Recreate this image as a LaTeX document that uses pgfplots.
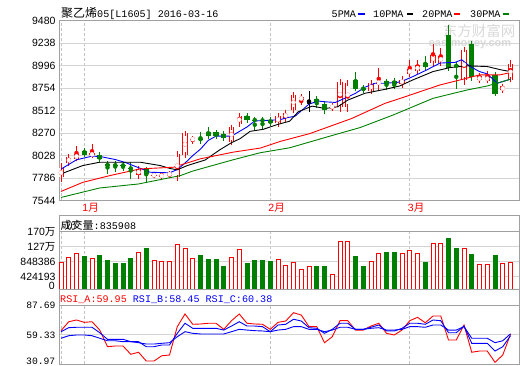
\documentclass[border=0pt]{standalone}
\usepackage{fontspec}
\setmainfont{Liberation Sans}
\setmonofont{Liberation Mono}
\newfontfamily\cjk{Noto Sans CJK SC}
\usepackage{pgfplots}
\usepackage{pgfplotstable}
\pgfplotsset{compat=1.18}
\definecolor{cred}{RGB}{255,0,0}
\definecolor{cgreen}{RGB}{0,128,0}
\definecolor{cblue}{RGB}{0,0,255}
\definecolor{framec}{RGB}{160,160,160}
\definecolor{gridc}{RGB}{212,212,212}
\definecolor{dashc}{RGB}{195,195,195}

% candles: index open high low close
\pgfplotstableread{
i o h l c
0 7795 7946 7748 7899
1 7946 8044 7928 8018
2 7996 8133 7982 8047
4 8033 8155 8000 8054
10 7820 7910 7774 7885
12 7815 7845 7790 7825
13 7810 7855 7785 7818
14 7826 7865 7785 7834
15 7795 8054 7758 8047
16 8036 8281 8025 8270
17 8203 8241 8155 8210
22 8173 8349 8162 8335
23 8371 8486 8360 8461
28 8378 8490 8340 8457
29 8428 8520 8393 8493
30 8522 8692 8522 8684
31 8630 8659 8576 8659
35 8544 8576 8522 8566
36 8558 8838 8504 8821
37 8558 8828 8504 8810
40 8727 8838 8702 8810
41 8812 8972 8738 8820
44 8803 8882 8756 8846
45 8908 9062 8882 8962
46 8936 9062 8918 9008
48 9026 9232 9008 9116
49 9026 9188 9008 9105
52 8846 9199 8792 9170
54 8838 8918 8828 8882
55 8835 8935 8828 8882
57 8731 8792 8720 8774
58 8846 9062 8838 9016
}\updata
\pgfplotstableread{
i o h l c
3 8079 8115 8018 8039
5 8036 8054 7964 7990
6 7935 7975 7830 7925
7 7930 7970 7855 7924
8 7928 7960 7860 7922
9 7895 7965 7775 7890
11 7882 7910 7748 7831
18 8210 8281 8152 8203
19 8281 8335 8206 8241
20 8281 8303 8206 8241
21 8263 8281 8206 8220
24 8461 8479 8396 8414
25 8415 8420 8305 8410
26 8412 8420 8320 8405
27 8414 8450 8345 8378
33 8638 8648 8540 8605
34 8587 8612 8476 8522
38 8846 8925 8738 8749
39 8752 8792 8702 8748
42 8828 8846 8738 8800
43 8832 8840 8745 8802
47 9026 9098 8936 8983
50 9332 9440 8962 8972
51 9008 9010 8746 8983
53 9235 9260 8828 8875
56 8900 8918 8666 8695
}\downdata
\pgfplotstableread{
i o h l c
32 8605 8720 8504 8605
}\flatdata

% volume
\pgfplotstableread{
i v
0 823000
1 980000
2 1074000
4 935000
10 1102000
12 879000
13 851000
14 851000
15 1326000
16 1222000
17 943000
22 963000
23 1194000
28 915000
29 748000
30 823000
31 636000
32 720000
35 497000
36 1418000
37 1418000
40 851000
41 1074000
44 1074000
45 1166000
46 1074000
48 1353000
49 1353000
52 1222000
54 767000
55 767000
57 804000
58 835908
}\volup
\pgfplotstableread{
i v
3 999000
5 1027000
6 887000
7 804000
8 804000
9 943000
11 1222000
18 1027000
19 924000
20 924000
21 728000
24 804000
25 887000
26 887000
27 860000
33 720000
34 720000
38 999000
39 720000
42 1111000
43 1111000
47 832000
50 1501000
51 1222000
53 1055000
56 1027000
}\voldown

\pgfplotsset{
  panel/.style={scale only axis, width=460.5pt, xmin=-0.26, xmax=59.16,
    axis line style={draw=framec, line width=0.8pt}, major tick length=0pt,
    xtick={0,3,27,45}, xmajorgrids,
    x grid style={draw=dashc, dash pattern=on 3pt off 2pt, line width=0.8pt},
    ymajorgrids, y grid style={draw=gridc, line width=0.8pt}},
  outerbox/.style={scale only axis, width=460.5pt, xmin=0, xmax=1, ymin=0, ymax=1,
    xtick={0}, ytick={0}, xticklabels={}, yticklabels={}, major tick length=0pt,
    axis line style={draw=framec, line width=0.8pt}},
  wick/.style={color=#1, only marks, mark=none, forget plot, error bars/.cd, y dir=both, y explicit,
    error mark=none, error bar style={color=#1, line width=0.9pt}},
  body/.style={color=#1, only marks, mark=none, forget plot, error bars/.cd, y dir=both, y explicit,
    error mark=-, error mark options={color=#1, line width=0.9pt, mark size=2.7pt},
    error bar style={color=#1, line width=5.4pt}},
  hollow/.style={color=white, only marks, mark=none, forget plot, error bars/.cd, y dir=both, y explicit,
    error mark=-, error mark options={color=#1, line width=0.9pt, mark size=2.7pt},
    error bar style={color=white, line width=3.6pt}},
}

\begin{document}
\begin{tikzpicture}
\useasboundingbox (0pt,0pt) rectangle (520pt,365pt);

% watermark
\node[text=black!15, font=\cjk\fontsize{14.5}{15}\selectfont, inner sep=0] at (479pt,334.5pt) {东方财富网};
\node[text=black!15, font=\bfseries\fontsize{11}{12}\selectfont, inner sep=0] at (470pt,321pt) {eastmoney.com};

% ---------------- main price panel
\begin{axis}[panel, at={(59pt,344.2pt)}, anchor=north west, height=180pt,
  ymin=7544, ymax=9480,
  ytick={7544,7786,8028,8270,8512,8754,8996,9238,9480},
  yticklabels={7544,7786,8028,8270,8512,8754,8996,9238,9480},
  yticklabel style={font=\fontsize{10.5}{12}\selectfont},
  xticklabels={,1{\cjk 月},2{\cjk 月},3{\cjk 月}},
  xticklabel style={anchor=north west, text=cred, inner sep=0pt, xshift=-2pt, yshift=-2pt,
    font=\fontsize{10.5}{12}\selectfont},
]
% up candles (hollow red)
\addplot[wick=cred] table[x=i, y expr={(\thisrow{h}+\thisrow{l})/2}, y error expr={(\thisrow{h}-\thisrow{l})/2}] {\updata};
\addplot[body=cred] table[x=i, y expr={(\thisrow{o}+\thisrow{c})/2}, y error expr={abs(\thisrow{c}-\thisrow{o})/2}] {\updata};
\addplot[hollow=cred] table[x=i, y expr={(\thisrow{o}+\thisrow{c})/2}, y error expr={abs(\thisrow{c}-\thisrow{o})/2}] {\updata};
% down candles (filled green)
\addplot[wick=cgreen] table[x=i, y expr={(\thisrow{h}+\thisrow{l})/2}, y error expr={(\thisrow{h}-\thisrow{l})/2}] {\downdata};
\addplot[body=cgreen] table[x=i, y expr={(\thisrow{o}+\thisrow{c})/2}, y error expr={abs(\thisrow{c}-\thisrow{o})/2}] {\downdata};
% flat candle (black)
\addplot[wick=black] table[x=i, y expr={(\thisrow{h}+\thisrow{l})/2}, y error expr={(\thisrow{h}-\thisrow{l})/2}] {\flatdata};
\addplot[body=black] table[x=i, y expr={(\thisrow{o}+\thisrow{c})/2}, y error expr={abs(\thisrow{c}-\thisrow{o})/2}] {\flatdata};
% 5 PMA
\addplot[cblue, line width=0.9pt, mark=none] coordinates {
(0,7885) (2,7985) (4,8024) (5,8021) (7,7988) (8.3,7956) (10.2,7894) (11.5,7851)
(14,7845) (15,7880) (16,7950) (17,8030) (18,8100) (19,8194) (20,8240) (22,8240)
(24,8338) (25,8403) (27,8410) (28.3,8418) (29.3,8440) (30.2,8454) (32,8584)
(33.2,8617) (34,8609) (35.4,8602) (36.6,8646) (38,8700) (39.2,8765) (40.5,8808)
(41.8,8808) (43.5,8819) (44.4,8844) (45.4,8880) (47.2,8952) (48.9,9025) (50.2,9031)
(50.8,9031) (51.7,9061) (52.8,8988) (54,8934) (55,8909) (56.3,8808) (57,8826) (58,8852)};
% 10 PMA
\addplot[black, line width=0.9pt, mark=none] coordinates {
(0,7833) (2.8,7923) (5,7959) (10.2,7959) (12.8,7923) (14.1,7891) (15,7877) (16.3,7923)
(18.6,7983) (20.5,8093) (22,8169) (23.1,8212) (24.4,8291) (26.1,8313) (27.9,8364)
(29.5,8400) (30.6,8501) (32.4,8562) (34.1,8537) (35.7,8555) (37,8627) (39.2,8700)
(41.8,8743) (43.7,8779) (45.4,8844) (48,8934) (50.2,8977) (52.4,8996) (55,8988)
(56.8,8952) (58,8934)};
% 20 PMA
\addplot[cred, line width=0.9pt, mark=none] coordinates {
(0,7645) (2.8,7742) (6.3,7815) (10.2,7887) (14.5,7905) (18,7996) (22.2,8067)
(25.7,8111) (28.3,8183) (32.1,8267) (37.5,8429) (41.8,8592) (44.4,8663) (46.3,8717)
(48.9,8790) (51.5,8844) (54,8898) (56.6,8898) (58,8923)};
% 30 PMA
\addplot[cgreen, line width=0.9pt, mark=none] coordinates {
(0,7580) (5,7682) (10,7725) (15.4,7815) (17,7864) (22.2,7985) (25.7,8061) (29.5,8114)
(34.3,8230) (38.6,8332) (42.8,8465) (48,8646) (52.4,8736) (55,8779) (58,8852)};
\end{axis}

% ---------------- volume panel
\begin{axis}[outerbox, at={(59pt,149.3pt)}, anchor=north west, height=73.6pt]
\addplot[draw=none, mark=none] coordinates {(0.5,0.5)};
\end{axis}
\begin{axis}[panel, at={(59pt,133.3pt)}, anchor=north west, height=57.6pt,
  ymin=70000, ymax=1696772, xticklabels={},
  ytick={424193,848386,1272579,1696772},
  yticklabels={424193,848386,{127{\cjk 万}},{170{\cjk 万}}},
  yticklabel style={font=\fontsize{10.5}{12}\selectfont},
]
\addplot[ybar, bar shift=0pt, bar width=0.5, draw=cred, fill=white, line width=0.8pt] table[x=i, y=v] {\volup};
\addplot[ybar, bar shift=0pt, bar width=0.5, draw=cgreen, fill=cgreen, line width=0.8pt] table[x=i, y=v] {\voldown};
\end{axis}
\node[anchor=east, inner sep=0, font=\fontsize{10.5}{12}\selectfont] at (55pt,79pt) {0};

% ---------------- RSI panel
\begin{axis}[outerbox, at={(59pt,75.5pt)}, anchor=north west, height=74.5pt]
\addplot[draw=none, mark=none] coordinates {(0.5,0.5)};
\end{axis}
\begin{axis}[panel, at={(59pt,59.3pt)}, anchor=north west, height=58.3pt,
  ymin=30.97, ymax=87.69, xticklabels={},
  ytick={59.33,87.69}, yticklabels={59.33,87.69},
  yticklabel style={font=\ttfamily\fontsize{9.7}{11}\selectfont},
]
\addplot[cred, line width=0.9pt, mark=none] coordinates {
(0,63.4) (1,72.1) (2,73.8) (3,71.5) (4,72.1) (5,64.0) (6,47.8) (7,48.5) (8,48.5) (9,40.4)
(10,42.4) (11,33.9) (12,33.9) (13,39.0) (14,39.7) (15,67.3) (16,79.6) (17,69.6) (18,69.9)
(19,70.6) (20,70.6) (21,64.7) (22,73.1) (23,79.6) (24,70.6) (25,69.9) (26,69.6) (27,64.7)
(28,71.5) (29,72.8) (30,80.9) (31,78.6) (32,67.3) (33,67.3) (34,51.7) (35,57.5) (36,73.1)
(37,73.1) (38,64.0) (39,64.0) (40,67.9) (41,70.6) (42,60.8) (43,59.2) (44,64.0) (45,73.1)
(46,76.4) (47,71.1) (48,77.7) (49,77.7) (50,54.3) (51,54.3) (52,68.9) (53,42.4) (54,43.6)
(55,43.6) (56,32.6) (57,39.7) (58,59.95)};
\addplot[cblue, line width=0.9pt, mark=none] coordinates {
(0,62.4) (1,66.3) (2,66.7) (3,66.7) (4,66.7) (5,61.4) (6,55.0) (7,55.0) (8,55.0) (9,52.7)
(10,52.7) (11,47.8) (12,47.8) (13,49.5) (14,49.5) (15,60.8) (16,70.6) (17,65.7) (18,65.7)
(19,65.7) (20,65.7) (21,64.0) (22,67.9) (23,72.1) (24,67.9) (25,67.9) (26,67.3) (27,62.4)
(28,68.9) (29,69.6) (30,74.5) (31,72.8) (32,66.3) (33,65.7) (34,60.8) (35,64.7) (36,70.6)
(37,70.6) (38,64.7) (39,64.7) (40,66.7) (41,68.9) (42,63.1) (43,63.1) (44,65.7) (45,70.6)
(46,70.6) (47,69.6) (48,73.8) (49,73.1) (50,61.4) (51,61.4) (52,67.9) (53,51.1) (54,51.1)
(55,51.1) (56,43.6) (57,47.8) (58,58.45)};
\addplot[cblue, line width=0.9pt, mark=none] coordinates {
(0,56.0) (1,58.5) (2,59.2) (3,59.2) (4,58.5) (5,56.0) (6,53.6) (7,53.6) (8,52.7) (9,52.7)
(10,51.7) (11,50.4) (12,50.4) (13,51.1) (14,51.7) (15,57.5) (16,62.4) (17,60.8) (18,60.2)
(19,60.2) (20,60.2) (21,60.2) (22,62.4) (23,64.7) (24,64.0) (25,63.4) (26,63.1) (27,62.4)
(28,64.0) (29,64.7) (30,67.3) (31,67.3) (32,64.7) (33,64.7) (34,62.4) (35,64.0) (36,66.7)
(37,66.7) (38,64.7) (39,64.7) (40,65.7) (41,66.3) (42,64.0) (43,64.0) (44,64.7) (45,67.3)
(46,67.3) (47,66.7) (48,68.9) (49,68.9) (50,64.0) (51,64.0) (52,67.3) (53,56.0) (54,56.0)
(55,56.0) (56,51.7) (57,53.6) (58,60.38)};
\end{axis}
\node[anchor=east, inner sep=0, font=\ttfamily\fontsize{9.7}{11}\selectfont] at (55.5pt,4pt) {30.97};

% ---------------- texts
\node[anchor=west, inner sep=0] at (61pt,351pt) {{\cjk\fontsize{12}{14}\selectfont 聚乙烯}{\ttfamily\fontsize{10.1}{12}\selectfont 05[L1605] 2016-03-16}};
\node[anchor=west, inner sep=0, font=\ttfamily\fontsize{10.1}{12}\selectfont] at (331.5pt,350.7pt) {5PMA};
\node[anchor=west, inner sep=0] at (358pt,350.7pt) {\textcolor{cblue}{\rule{7pt}{2.3pt}}};
\node[anchor=west, inner sep=0, font=\ttfamily\fontsize{10.1}{12}\selectfont] at (373pt,350.7pt) {10PMA};
\node[anchor=west, inner sep=0] at (407pt,350.7pt) {\textcolor{black}{\rule{6pt}{2.3pt}}};
\node[anchor=west, inner sep=0, font=\ttfamily\fontsize{10.1}{12}\selectfont] at (422pt,350.7pt) {20PMA};
\node[anchor=west, inner sep=0] at (454pt,350.7pt) {\textcolor{cred}{\rule{6pt}{2.3pt}}};
\node[anchor=west, inner sep=0, font=\ttfamily\fontsize{10.1}{12}\selectfont] at (470pt,350.7pt) {30PMA};
\node[anchor=west, inner sep=0] at (503pt,350.7pt) {\textcolor{cgreen}{\rule{6pt}{2.3pt}}};

\node[anchor=west, inner sep=0] at (60.5pt,139.5pt) {{\cjk\fontsize{11}{13}\selectfont 成交量}{\ttfamily\fontsize{10.1}{12}\selectfont :835908}};

\node[anchor=west, inner sep=0, font=\ttfamily\fontsize{10.1}{12}\selectfont] at (60pt,65pt)
  {\textcolor{cred}{RSI\_A:59.95} \textcolor{cblue}{RSI\_B:58.45} \textcolor{cblue}{RSI\_C:60.38}};
\end{tikzpicture}
\end{document}
